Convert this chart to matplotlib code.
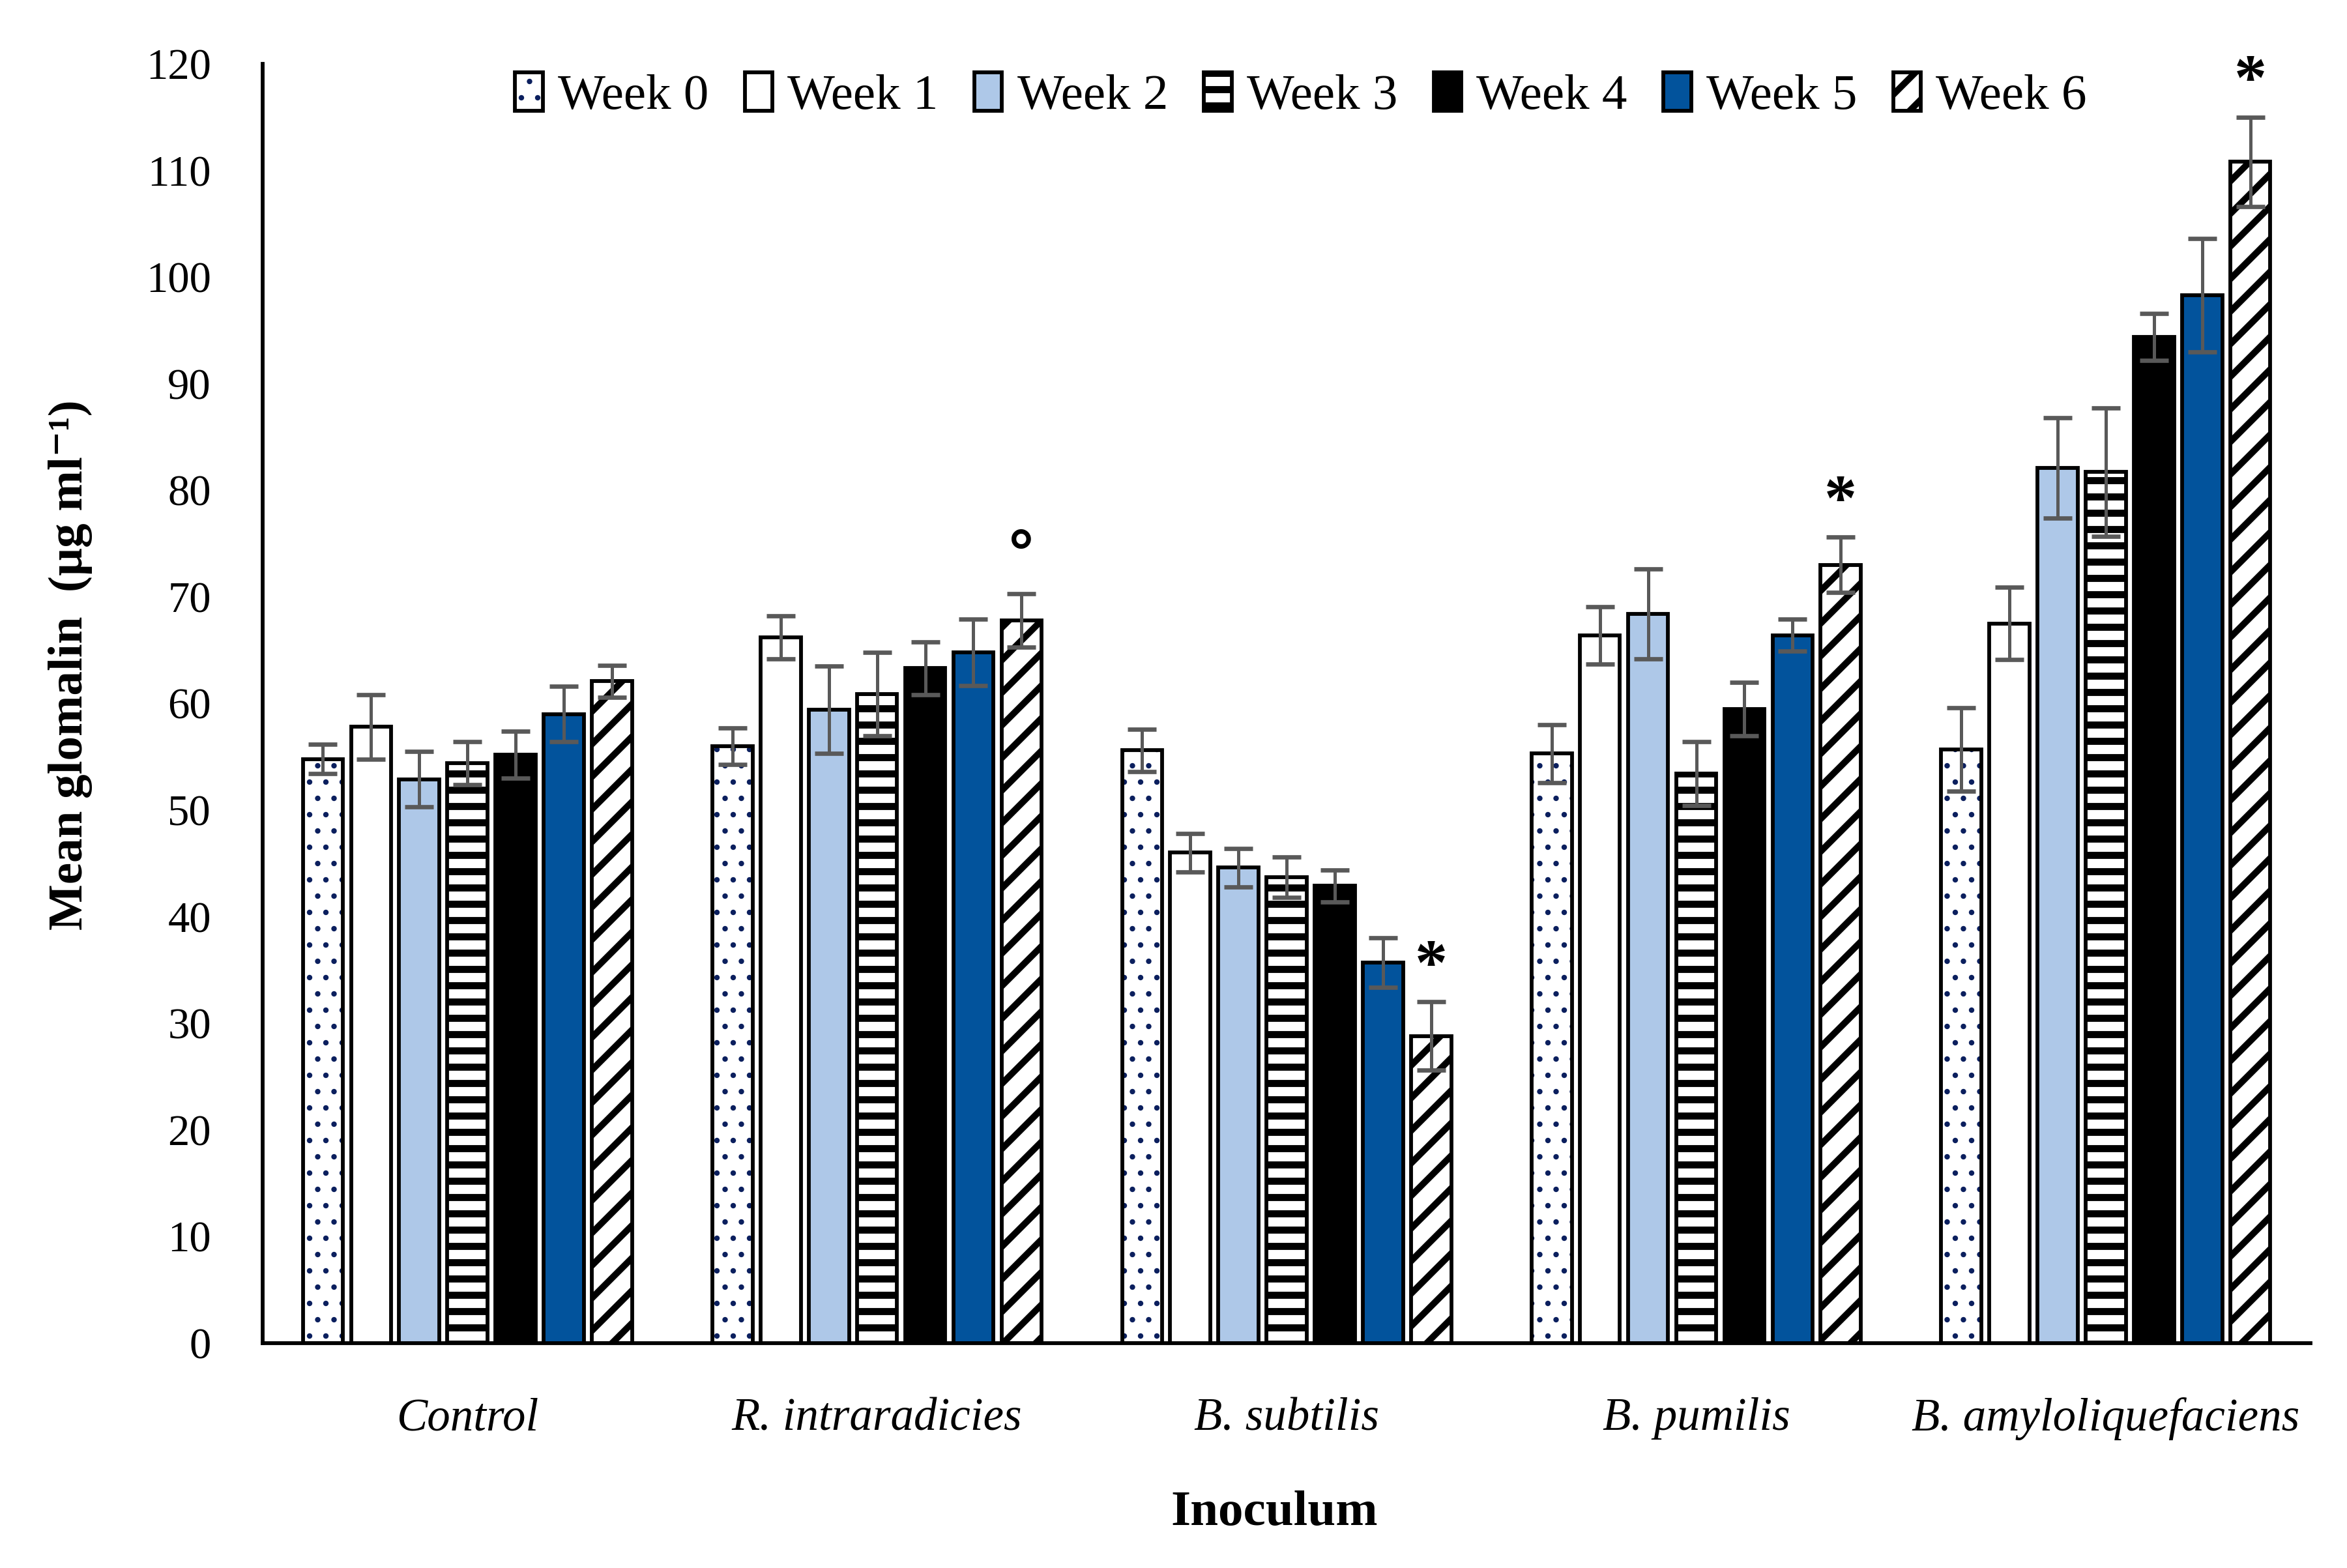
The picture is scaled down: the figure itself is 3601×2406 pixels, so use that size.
import numpy as np
import matplotlib.pyplot as plt
from matplotlib.patches import Rectangle
from matplotlib.legend_handler import HandlerTuple

plt.rcParams['font.family'] = ['Liberation Serif', 'DejaVu Serif']
plt.rcParams['hatch.linewidth'] = 2.6

inocula = ['Control', 'R. intraradicies', 'B. subtilis', 'B. pumilis',
           'B. amyloliquefaciens']
weeks = ['Week 0', 'Week 1', 'Week 2', 'Week 3', 'Week 4', 'Week 5', 'Week 6']

# mean glomalin per week, one value per inoculum
week0 = [54.8, 56.0, 55.6, 55.3, 55.7]
week1 = [57.8, 66.2, 46.0, 66.4, 67.5]
week2 = [52.9, 59.4, 44.6, 68.4, 82.1]
week3 = [54.4, 60.9, 43.7, 53.4, 81.7]
week4 = [55.2, 63.3, 42.9, 59.5, 94.4]
week5 = [59.0, 64.8, 35.7, 66.4, 98.3]
week6 = [62.1, 67.8, 28.8, 73.0, 110.8]

err0 = [1.4, 1.7, 2.0, 2.7, 3.9]
err1 = [3.0, 2.0, 1.8, 2.7, 3.4]
err2 = [2.6, 4.1, 1.8, 4.2, 4.7]
err3 = [2.0, 3.9, 1.9, 3.0, 6.0]
err4 = [2.2, 2.5, 1.5, 2.5, 2.2]
err5 = [2.6, 3.1, 2.3, 1.5, 5.3]
err6 = [1.5, 2.5, 3.2, 2.6, 4.2]

# significance marks above week 6
marks = ['', '°', '*', '*', '*']

means = [week0, week1, week2, week3, week4, week5, week6]
errs = [err0, err1, err2, err3, err4, err5, err6]

faces = ['white', 'white', '#aec8e8', 'white', 'black', '#02539c', 'white']
hatches = ['..', None, None, '--', None, None, '//']
hatch_cols = ['#0b1f5e', None, None, 'black', None, None, 'black']
hatch_lw = [0.8, None, None, 2.6, None, None, 2.4]

fig = plt.figure(figsize=(3601 / 300, 2406 / 300), dpi=300)
ax = fig.add_axes([0.1119, 0.1434, 0.8726, 0.8159])

x = np.arange(len(inocula))
step = 0.1176
width = 0.098
handles = []
for j in range(len(weeks)):
    pos = x + (j - 3) * step
    parts = []
    if hatches[j]:
        with plt.rc_context({'hatch.linewidth': hatch_lw[j]}):
            hb = ax.bar(pos, means[j], width, color=faces[j], edgecolor=hatch_cols[j],
                        hatch=hatches[j], linewidth=0, zorder=2)
        for p in hb:
            if hasattr(p, 'set_hatch_linewidth'):
                p.set_hatch_linewidth(hatch_lw[j])
        parts.append(hb[0])
    ob = ax.bar(pos, means[j], width, facecolor=faces[j] if not hatches[j] else 'none',
                edgecolor='black', linewidth=1.4, zorder=3)
    parts.append(ob[0])
    ax.errorbar(pos, means[j], yerr=errs[j], fmt='none', ecolor='#595959',
                elinewidth=1.2, capsize=5.2, capthick=1.6, zorder=4)
    handles.append(tuple(parts))

pos6 = x + 3 * step
for i, m in enumerate(marks):
    if m == '*':
        ax.text(pos6[i], week6[i] + err6[i] + 3.2, m, ha='center', va='center',
                fontsize=24, fontweight='bold')
    elif m:
        ax.text(pos6[i], week6[i] + err6[i] + 3.4, m, ha='center', va='center',
                fontsize=22, fontweight='bold', family='DejaVu Sans')

ax.set_xlim(-0.5, 4.5)
ax.set_ylim(0, 120)
ax.set_yticks(np.arange(0, 121, 10))
ax.set_xticks(x)
ax.set_xticklabels(inocula, fontstyle='italic', fontsize=17)
ax.tick_params(axis='y', length=0, pad=19, labelsize=16)
ax.tick_params(axis='x', length=0, pad=20)

for s in ['top', 'right']:
    ax.spines[s].set_visible(False)
for s in ['left', 'bottom']:
    ax.spines[s].set_linewidth(1.4)

ax.set_ylabel('Mean glomalin  (µg ml⁻¹)', fontsize=18, fontweight='bold')
ax.yaxis.set_label_coords(-0.083, 0.53)
ax.set_xlabel('Inoculum', fontsize=18.5, fontweight='bold')
ax.xaxis.set_label_coords(0.494, -0.115)

leg = ax.legend(handles, weeks, handler_map={tuple: HandlerTuple(ndivide=1, pad=0)},
                loc='center', bbox_to_anchor=(0.507, 0.975), ncol=7,
                frameon=False, fontsize=18.5, handlelength=0.55, handleheight=0.8,
                handletextpad=0.3, columnspacing=0.72)
# legend copies of the hatched bars get the right hatch width too
for r in leg.findobj(Rectangle):
    h = r.get_hatch()
    if h in hatches and hasattr(r, 'set_hatch_linewidth'):
        r.set_hatch_linewidth(hatch_lw[hatches.index(h)])

fig.savefig('out.png', dpi=300)
